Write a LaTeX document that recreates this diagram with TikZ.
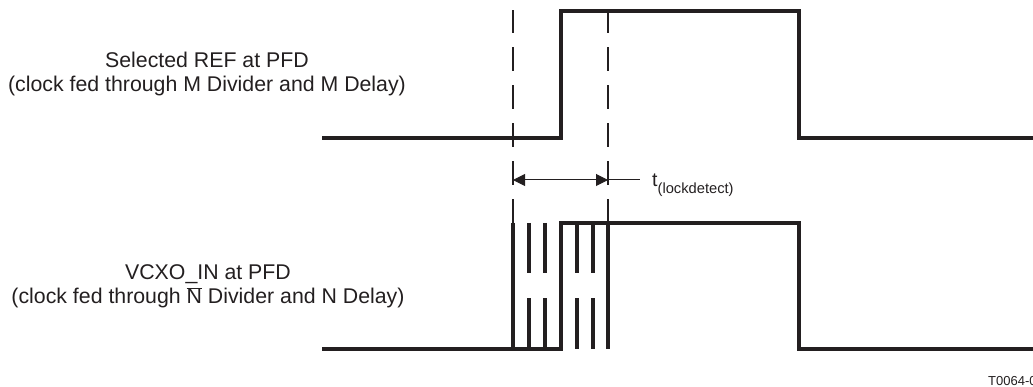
\documentclass[tikz,border=0pt]{standalone}
\usepackage{fontspec}
\setmainfont{Liberation Sans}
\usetikzlibrary{arrows.meta}
\definecolor{ink}{RGB}{35,31,32}

\begin{document}
\begin{tikzpicture}[x=1pt,y=-1pt,color=ink,
  sig/.style={line width=3.6pt, line join=miter},
  jit/.style={line width=3.2pt},
  guide/.style={line width=2.2pt, dash pattern=on 24pt off 14pt},
  lbl/.style={align=center, inner sep=0pt, font=\fontsize{21.3}{24.5}\selectfont}]
  \useasboundingbox (0,0) rectangle (1033,387);
  % selected REF
  \coordinate (refstart) at (322,138);
  \coordinate (refrise) at (561,138);
  \coordinate (reffall) at (799,11);
  \coordinate (refend) at (1036,138);
  \draw[sig] (refstart) -- (refrise) |- (reffall) |- (refend);
  % VCXO_IN
  \coordinate (vcxostart) at (322,349);
  \coordinate (vcxorise) at (561,349);
  \coordinate (vcxofall) at (799,223);
  \coordinate (vcxoend) at (1036,349);
  \draw[sig] (vcxostart) -- (vcxorise) |- (vcxofall) |- (vcxoend);
  \foreach \x in {513,608}
    \draw[jit] (\x,223) -- (\x,349);
  \foreach \x in {529,545,577,593} {
    \draw[jit] (\x,223) -- (\x,273);
    \draw[jit] (\x,298) -- (\x,349);
  }
  % lock detect window
  \coordinate (earlytop) at (513,10);
  \coordinate (earlybot) at (513,223);
  \coordinate (latetop) at (608,10);
  \coordinate (latebot) at (608,223);
  \draw[guide] (earlybot) -- (earlytop);
  \draw[guide] (latebot) -- (latetop);
  \coordinate (winl) at (513,180);
  \coordinate (winr) at (608,180);
  \coordinate (winlead) at (640,180);
  \draw[{Triangle[length=12pt,width=12pt]}-{Triangle[length=12pt,width=12pt]}, line width=1pt] (winl) -- (winr);
  \draw[line width=1pt] (winr) -- (winlead);
  \node[anchor=base west, inner sep=0pt] (tlock) at (652,187)
    {{\fontsize{19.5}{22}\selectfont t}\raisebox{-6.5pt}{\fontsize{14.7}{17}\selectfont (lockdetect)}};
  % labels
  \node[lbl] (refname) at (207,74) {Selected REF at PFD\\(clock fed through M Divider and M Delay)};
  \node[lbl] (vcxoname) at (208,286.5) {VCXO\_IN at PFD\\(clock fed through $\overline{\mbox{N}}$ Divider and N Delay)};
  \node[anchor=base west, inner sep=0pt, font=\fontsize{13}{15}\selectfont] (figid) at (988,385) {T0064-0};
\end{tikzpicture}
\end{document}
